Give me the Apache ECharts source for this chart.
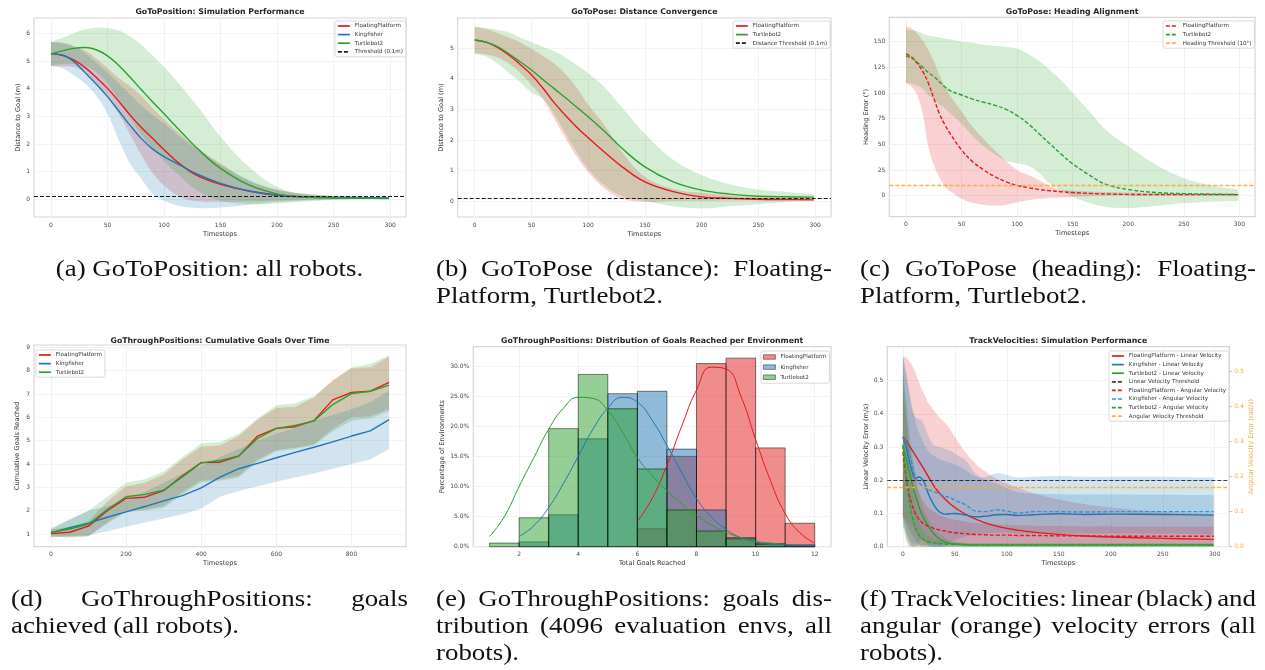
<!DOCTYPE html>
<html><head><meta charset="utf-8">
<script src="https://cdn.jsdelivr.net/npm/echarts@6/dist/echarts.min.js"></script>
<style>html,body{margin:0;padding:0;background:#fff}#c{width:1265px;height:670px}</style>
</head><body><div id="c"></div>
<script>
// ---------------- DATA ----------------
// (a) GoToPosition
const tA = [0,10,20,30,40,50,60,70,80,90,100,115,130,150,175,200,225,250,275,299];
const aFP   = [5.27,5.22,5.05,4.78,4.42,4.02,3.55,3.05,2.6,2.2,1.8,1.25,0.85,0.54,0.3,0.16,0.09,0.06,0.05,0.04];
const aKF   = [5.27,5.23,5.0,4.6,4.18,3.72,3.2,2.68,2.2,1.82,1.55,1.22,0.9,0.58,0.3,0.14,0.09,0.07,0.06,0.05];
const aTB   = [5.27,5.38,5.47,5.5,5.42,5.2,4.85,4.42,3.97,3.53,3.1,2.45,1.82,1.12,0.52,0.2,0.08,0.05,0.04,0.03];
const aFPlo = [4.82,4.82,4.8,4.6,4.2,3.7,3.1,2.35,1.6,0.95,0.5,0.08,-0.07,-0.09,-0.08,-0.05,-0.02,0.0,0.01,0.02];
const aFPhi = [5.7,5.65,5.55,5.4,5.1,4.75,4.4,4.1,3.75,3.3,2.9,2.35,1.85,1.3,0.68,0.35,0.2,0.12,0.08,0.06];
const aKFlo = [4.85,4.75,4.5,4.2,3.75,3.1,2.15,1.3,0.75,0.2,-0.05,-0.25,-0.32,-0.3,-0.2,-0.1,-0.04,0.0,0.01,0.02];
const aKFhi = [5.7,5.68,5.55,5.3,4.95,4.6,4.2,3.8,3.4,3.05,2.75,2.25,1.8,1.25,0.7,0.35,0.2,0.12,0.1,0.08];
const aTBlo = [4.85,4.9,4.9,4.85,4.6,4.2,3.6,2.95,2.35,1.85,1.4,0.8,0.3,-0.05,-0.17,-0.15,-0.08,-0.02,0.0,0.0];
const aTBhi = [5.7,5.85,6.02,6.15,6.22,6.2,6.12,5.9,5.6,5.2,4.8,4.1,3.35,2.27,1.18,0.46,0.16,0.1,0.08,0.06];
const aThreshold = 0.1;

// (b) GoToPose distance
const tB = [0,10,20,30,40,50,60,70,80,90,100,115,130,150,175,200,225,250,275,299];
const bFP   = [5.27,5.2,5.03,4.78,4.47,4.13,3.7,3.22,2.8,2.42,2.07,1.58,1.12,0.63,0.31,0.14,0.09,0.06,0.05,0.04];
const bTB   = [5.27,5.2,5.05,4.82,4.56,4.29,3.98,3.68,3.38,3.07,2.76,2.26,1.72,1.12,0.63,0.36,0.23,0.16,0.14,0.13];
const bFPlo = [4.82,4.8,4.7,4.5,4.2,3.8,3.35,2.7,2.05,1.45,0.95,0.4,0.08,-0.02,0.0,0.01,0.02,0.02,0.02,0.02];
const bFPhi = [5.7,5.62,5.5,5.35,5.2,4.98,4.75,4.5,4.15,3.7,3.15,2.45,1.6,0.8,0.4,0.27,0.18,0.12,0.1,0.09];
const bTBlo = [4.84,4.72,4.5,4.2,3.9,3.55,3.35,2.85,2.2,1.6,1.05,0.5,0.16,0.0,-0.17,-0.24,-0.17,-0.1,-0.03,0.04];
const bTBhi = [5.7,5.66,5.6,5.52,5.35,5.2,5.05,4.9,4.7,4.45,4.18,3.7,3.05,2.2,1.35,0.85,0.55,0.38,0.3,0.22];
const bThreshold = 0.1;

// (c) GoToPose heading
const tC = [0,5,10,15,20,25,30,35,40,50,60,70,80,90,100,110,120,130,140,150,165,180,200,225,250,275,299];
const cFP   = [138,135,129,121,110,95,80,69,60,44.5,33,25,18.5,13.5,10,7.8,6,4.8,3.8,3,2.2,1.6,1.2,1,1,1,1];
const cTB   = [136,134,130,125,120,116,111,106,102,98,94,91,88,84,78,70,60,50,40,31,20,11,6,3,2,1.5,1];
const cFPlo = [110,106,98,80,48,30,18,9,4,-3,-7,-9,-9.5,-9,-6.5,-4.5,-3,-2.3,-1.8,-1.2,-0.5,0,0,0,0,0,0];
const cFPhi = [165,163,158,151,142,131,118,106,97,82,67,55,44,34,25,20,15,9,6,5,4,3.5,3,2.5,2.2,2,2];
const cTBlo = [110,109,107,104,98,94,89,85,80,70,58,48,40,34,31.5,29,22,11,5,-1,-7,-11,-12,-10,-7.5,-6,-5];
const cTBhi = [162,161,160,158,156,155,154,153,152,150,149,147,146,145,143,138,131,122,112,100,82,64,48,30,17,10,6];
const cThreshold = 10;

// (d) GoThroughPositions cumulative goals
const tD = [0,50,100,150,200,250,300,350,400,450,500,550,600,650,700,750,800,850,900];
const dFP   = [1.02,1.08,1.34,2.0,2.53,2.58,2.86,3.5,4.06,4.08,4.34,5.2,5.53,5.6,5.86,6.75,7.07,7.12,7.5];
const dKF   = [1.05,1.27,1.47,1.72,1.95,2.18,2.42,2.65,2.98,3.44,3.8,4.03,4.27,4.5,4.72,4.95,5.2,5.42,5.9];
const dTB   = [1.08,1.22,1.42,2.05,2.6,2.7,2.88,3.45,4.05,4.15,4.35,5.1,5.53,5.65,5.85,6.55,7.02,7.12,7.38];
const dFPlo = [0.88,0.88,0.92,1.5,2.0,2.05,2.2,2.8,3.3,3.35,3.5,4.2,4.6,4.7,4.85,5.5,6.0,6.05,6.35];
const dFPhi = [1.2,1.3,1.55,2.4,3.05,3.2,3.55,4.2,4.75,4.8,5.2,5.9,6.4,6.45,6.85,7.6,8.1,8.15,8.6];
const dKFlo = [0.9,0.92,0.95,1.12,1.31,1.5,1.67,1.85,2.1,2.6,2.85,3.05,3.24,3.42,3.6,3.8,4.0,4.2,4.64];
const dKFhi = [1.2,1.65,2.0,2.2,2.45,2.8,3.2,3.6,3.9,4.3,4.65,5.0,5.3,5.55,5.85,6.1,6.35,6.65,7.15];
const dTBlo = [0.9,0.85,0.9,1.45,1.95,2.0,2.12,2.7,3.22,3.28,3.42,4.1,4.55,4.65,4.8,5.4,5.85,5.95,6.25];
const dTBhi = [1.25,1.6,2.0,2.6,3.2,3.35,3.68,4.3,4.88,4.95,5.3,5.95,6.52,6.6,6.9,7.55,8.15,8.3,8.65];

// (e) distribution of goals (percent of envs per bin)
const eFPedges = [6,7,8,9,10,11,12];
const eFP      = [3.0,15.0,30.4,31.3,16.4,3.9];
const eKFedges = [2,3,4,5,6,7,8,9,10,11,12];
const eKF      = [0.8,5.3,17.9,25.4,25.8,16.2,6.1,1.5,0.5,0.2];
const eTBedges = [1,2,3,4,5,6,7,8,9,10,11,12];
const eTB      = [0.6,4.8,19.6,28.6,22.9,12.9,6.1,2.6,1.3,0.4,0.3];
const eFPkdeX  = [6,6.5,7,7.5,8,8.5,9,9.5,10,10.5,11,11.5,12];
const eFPkde   = [4.2,8.0,13.5,20.0,26.0,29.8,29.5,25.0,17.8,11.0,5.5,2.3,0.6];
const eKFkdeX  = [2,2.5,3,3.5,4,4.5,5,5.5,6,6.5,7,7.5,8,8.5,9,9.5,10,10.5,11,11.5,12];
const eKFkde   = [1.7,3.5,6.5,10.5,15.0,19.5,23.0,24.8,24.0,21.0,16.8,12.3,8.0,5.0,2.9,1.5,0.8,0.4,0.3,0.2,0.2];
const eTBkdeX  = [1,1.5,2,2.5,3,3.5,4,4.5,5,5.5,6,6.5,7,7.5,8,8.5,9,9.5,10,10.5,11];
const eTBkde   = [1.7,5.0,10.0,14.8,19.5,23.0,24.8,24.6,22.6,19.0,14.8,11.8,9.3,7.1,5.2,3.6,2.4,1.5,0.9,0.6,0.4];

// (f) TrackVelocities
const tF = [0,3,6,9,12,15,18,21,25,30,35,40,45,50,60,70,80,90,100,110,125,150,175,200,250,299];
const fFPlin = [0.33,0.32,0.305,0.29,0.275,0.26,0.245,0.23,0.208,0.182,0.162,0.145,0.13,0.118,0.098,0.083,0.071,0.062,0.055,0.05,0.044,0.037,0.032,0.029,0.025,0.022];
const fKFlin = [0.33,0.3,0.26,0.225,0.205,0.21,0.205,0.19,0.155,0.125,0.105,0.098,0.099,0.1,0.095,0.09,0.092,0.096,0.097,0.094,0.096,0.099,0.097,0.098,0.097,0.095];
const fTBlin = [0.3,0.265,0.225,0.19,0.155,0.125,0.1,0.08,0.06,0.038,0.024,0.015,0.01,0.008,0.006,0.005,0.005,0.005,0.005,0.005,0.005,0.005,0.005,0.005,0.005,0.005];
const fFPang = [0.27,0.2,0.15,0.118,0.095,0.08,0.07,0.063,0.058,0.052,0.048,0.045,0.042,0.04,0.037,0.035,0.034,0.033,0.033,0.032,0.032,0.031,0.031,0.03,0.03,0.03];
const fKFang = [0.31,0.3,0.27,0.235,0.2,0.185,0.175,0.168,0.162,0.157,0.15,0.145,0.14,0.133,0.12,0.102,0.1,0.105,0.102,0.096,0.1,0.1,0.099,0.1,0.1,0.1];
const fTBang = [0.29,0.21,0.135,0.085,0.055,0.035,0.025,0.018,0.014,0.011,0.009,0.008,0.007,0.007,0.006,0.006,0.006,0.006,0.006,0.006,0.006,0.006,0.006,0.006,0.006,0.006];
const fFPlinHi = [0.57,0.57,0.56,0.545,0.525,0.5,0.475,0.455,0.43,0.41,0.39,0.375,0.355,0.33,0.285,0.25,0.225,0.205,0.19,0.178,0.162,0.142,0.128,0.118,0.105,0.098];
const fFPlinLo = [0.09,0.07,0.05,0.035,0.02,0.01,0.0,-0.01,-0.02,-0.03,-0.04,-0.05,-0.05,-0.05,-0.05,-0.05,-0.05,-0.05,-0.05,-0.05,-0.05,-0.05,-0.05,-0.05,-0.05,-0.05];
const fKFlinHi = [0.57,0.52,0.46,0.41,0.39,0.385,0.38,0.36,0.33,0.305,0.3,0.295,0.29,0.28,0.26,0.22,0.2,0.19,0.175,0.165,0.16,0.158,0.157,0.157,0.156,0.155];
const fKFlinLo = [0.09,0.05,0.02,0.0,0.0,0.01,0.02,0.02,0.0,-0.01,-0.01,0.0,0.01,0.02,0.03,0.035,0.04,0.042,0.043,0.04,0.04,0.04,0.04,0.04,0.039,0.037];
const fTBlinHi = [0.52,0.45,0.36,0.28,0.22,0.17,0.13,0.105,0.08,0.055,0.04,0.028,0.02,0.015,0.012,0.01,0.01,0.01,0.01,0.01,0.01,0.01,0.01,0.01,0.01,0.01];
const fTBlinLo = [0.09,0.08,0.07,0.06,0.045,0.03,0.02,0.012,0.005,0,0,0,0,0,0,0,0,0,0,0,0,0,0,0,0,0];
const fFPangHi = [0.45,0.38,0.3,0.24,0.19,0.16,0.14,0.125,0.11,0.1,0.09,0.085,0.08,0.077,0.072,0.068,0.066,0.064,0.062,0.061,0.06,0.059,0.058,0.058,0.057,0.057];
const fFPangLo = [0.09,0.03,0.005,0,0,0,0.005,0.005,0.006,0.006,0.006,0.006,0.006,0.007,0.008,0.008,0.008,0.008,0.008,0.008,0.008,0.008,0.008,0.008,0.008,0.008];
const fKFangHi = [0.55,0.5,0.45,0.4,0.36,0.33,0.31,0.29,0.27,0.26,0.25,0.245,0.24,0.235,0.22,0.2,0.2,0.21,0.205,0.198,0.2,0.202,0.2,0.2,0.2,0.198];
const fKFangLo = [0.06,0.04,0.02,0.01,0.01,0.005,0,0,0,0,0,0,0,0,0,0,0,0,0,0,0,0,0,0,0,0];
const fTBangHi = [0.52,0.4,0.27,0.18,0.12,0.08,0.055,0.04,0.03,0.022,0.018,0.015,0.013,0.012,0.011,0.01,0.01,0.01,0.01,0.01,0.01,0.01,0.01,0.01,0.01,0.01];
const fTBangLo = [0.06,0.02,0,0,0,0,0,0,0,0,0,0,0,0,0,0,0,0,0,0,0,0,0,0,0,0];
const fLinThreshold = 0.2;
const fAngThreshold = 0.1745;

// tick labels
const ticksT300 = [0,50,100,150,200,250,300];
const ticksT900 = [0,200,400,600,800];
const ticksA = [0,1,2,3,4,5,6];
const ticksB = [0,1,2,3,4,5];
const ticksC = [0,25,50,75,100,125,150];
const ticksD = [1,2,3,4,5,6,7,8,9];
const ticksEx = [2,4,6,8,10,12];
const ticksEy = [0,5,10,15,20,25,30];
const ticksF = [0,0.1,0.2,0.3,0.4,0.5];

const titles = [
  'GoToPosition: Simulation Performance',
  'GoToPose: Distance Convergence',
  'GoToPose: Heading Alignment',
  'GoThroughPositions: Cumulative Goals Over Time',
  'GoThroughPositions: Distribution of Goals Reached per Environment',
  'TrackVelocities: Simulation Performance'
];
const captions = [
  {col:0,row:0,lines:['(a) GoToPosition: all robots.']},
  {col:1,row:0,lines:['(b) GoToPose (distance): Floating-','Platform, Turtlebot2.']},
  {col:2,row:0,lines:['(c) GoToPose (heading): Floating-','Platform, Turtlebot2.']},
  {col:0,row:1,lines:['(d) GoThroughPositions: goals','achieved (all robots).']},
  {col:1,row:1,lines:['(e) GoThroughPositions: goals dis-','tribution (4096 evaluation envs, all','robots).']},
  {col:2,row:1,lines:['(f) TrackVelocities: linear (black) and','angular (orange) velocity errors (all','robots).']}
];

// ---------------- STYLE / LAYOUT ----------------
const FONT = 'DejaVu Sans';
const COL = {fp:'#e41a1c', kf:'#1f77b4', tb:'#2ca02c', orangeTxt:'#ffa447'};
const FILL = {fp:'rgba(228,26,28,0.2)', kf:'rgba(31,119,180,0.2)', tb:'rgba(44,160,44,0.2)'};
const HFILL = {fp:'rgba(228,26,28,0.5)', kf:'rgba(31,119,180,0.5)', tb:'rgba(44,160,44,0.5)'};
const HEDGE = 'rgba(0,0,0,0.55)';
const grids = [
  {left:34, top:18, width:372, height:199},
  {left:457.7, top:18, width:373.3, height:199},
  {left:889.3, top:17.3, width:365.7, height:199.4},
  {left:34, top:345, width:372, height:201.7},
  {left:473.3, top:346.7, width:357.7, height:200},
  {left:887.3, top:346.7, width:342, height:200}
];

const series = [];
function band(name, gi, yi, t, lo, hi, fill, smooth) {
  series.push({
    type:'custom', name:name, xAxisIndex:gi, yAxisIndex:yi, clip:true, silent:true,
    data: t.map((x,i)=>[x, lo[i], hi[i]]), encode:{x:0, y:[1,2]},
    renderItem: function(params, api) {
      if (params.dataIndex !== 0) return null;
      const up = t.map((x,i)=>api.coord([x, hi[i]]));
      const dn = t.map((x,i)=>api.coord([x, lo[i]])).reverse();
      const pts = [up[0]].concat(up, [up[up.length-1]], [dn[0]], dn, [dn[dn.length-1]]);
      return {type:'polygon', shape:{points:pts, smooth:smooth}, style:{fill:fill}};
    }
  });
}
function line(name, gi, yi, t, v, color, dashed, smooth, width) {
  series.push({
    type:'line', name:name, xAxisIndex:gi, yAxisIndex:yi, silent:true,
    data: t.map((x,i)=>[x, v[i]]), symbol:'none', smooth:smooth,
    lineStyle:{color:color, width:width||1.4, type: dashed ? [4,2] : 'solid'}, itemStyle:{color:color}
  });
}
function thresh(name, gi, yi, val, color, w) {
  series.push({
    type:'line', name:name, xAxisIndex:gi, yAxisIndex:yi, data:[], symbol:'none',
    lineStyle:{color:color, width:w||1.2, type:[4,2]}, itemStyle:{color:color},
    markLine:{silent:true, symbol:['none','none'], label:{show:false}, animation:false,
      lineStyle:{color:color, width:w||1.2, type:[4,2]}, data:[{yAxis:val}]}
  });
}
function hist(name, gi, edges, vals, fill) {
  series.push({
    type:'custom', name:name, xAxisIndex:gi, yAxisIndex:gi, silent:true,
    itemStyle:{color:fill, borderColor:HEDGE, borderWidth:0.8},
    data: vals.map((v,i)=>[edges[i], edges[i+1], v]), encode:{x:[0,1], y:2},
    renderItem: function(params, api) {
      const p0 = api.coord([api.value(0), api.value(2)]);
      const p1 = api.coord([api.value(1), 0]);
      return {type:'rect', shape:{x:p0[0], y:p0[1], width:p1[0]-p0[0], height:p1[1]-p0[1]},
        style:{fill:fill, stroke:HEDGE, lineWidth:0.9}};
    }
  });
}

const ORANGE_LINE = 'rgba(255,170,40,0.9)';
// (a)
band('a_fp_band',0,0,tA,aFPlo,aFPhi,FILL.fp,0.4); line('a:FloatingPlatform',0,0,tA,aFP,COL.fp,false,0.4);
band('a_kf_band',0,0,tA,aKFlo,aKFhi,FILL.kf,0.4); line('a:Kingfisher',0,0,tA,aKF,COL.kf,false,0.4);
band('a_tb_band',0,0,tA,aTBlo,aTBhi,FILL.tb,0.4); line('a:Turtlebot2',0,0,tA,aTB,COL.tb,false,0.4);
thresh('a:Threshold (0.1m)',0,0,aThreshold,'#1a1a1a');
// (b)
band('b_fp_band',1,1,tB,bFPlo,bFPhi,FILL.fp,0.4); line('b:FloatingPlatform',1,1,tB,bFP,COL.fp,false,0.4);
band('b_tb_band',1,1,tB,bTBlo,bTBhi,FILL.tb,0.4); line('b:Turtlebot2',1,1,tB,bTB,COL.tb,false,0.4);
thresh('b:Distance Threshold (0.1m)',1,1,bThreshold,'#1a1a1a');
// (c)
band('c_fp_band',2,2,tC,cFPlo,cFPhi,FILL.fp,0.4); line('c:FloatingPlatform',2,2,tC,cFP,COL.fp,true,0.4);
band('c_tb_band',2,2,tC,cTBlo,cTBhi,FILL.tb,0.4); line('c:Turtlebot2',2,2,tC,cTB,COL.tb,true,0.4);
thresh('c:Heading Threshold (10°)',2,2,cThreshold,ORANGE_LINE,1.4);
// (d)
band('d_fp_band',3,3,tD,dFPlo,dFPhi,FILL.fp,0); line('d:FloatingPlatform',3,3,tD,dFP,COL.fp,false,false);
band('d_kf_band',3,3,tD,dKFlo,dKFhi,FILL.kf,0); line('d:Kingfisher',3,3,tD,dKF,COL.kf,false,false);
band('d_tb_band',3,3,tD,dTBlo,dTBhi,FILL.tb,0); line('d:Turtlebot2',3,3,tD,dTB,COL.tb,false,false);
// (e)
hist('e:FloatingPlatform',4,eFPedges,eFP,HFILL.fp);
hist('e:Kingfisher',4,eKFedges,eKF,HFILL.kf);
hist('e:Turtlebot2',4,eTBedges,eTB,HFILL.tb);
line('e_fp_kde',4,4,eFPkdeX,eFPkde,COL.fp,false,0.5,1);
line('e_kf_kde',4,4,eKFkdeX,eKFkde,COL.kf,false,0.5,1);
line('e_tb_kde',4,4,eTBkdeX,eTBkde,COL.tb,false,0.5,1);
// (f) linear on left axis (5), angular on right axis (6)
band('f_fp_lb',5,5,tF,fFPlinLo,fFPlinHi,FILL.fp,0.4); line('f:FloatingPlatform - Linear Velocity',5,5,tF,fFPlin,COL.fp,false,0.4);
band('f_kf_lb',5,5,tF,fKFlinLo,fKFlinHi,FILL.kf,0.4); line('f:Kingfisher - Linear Velocity',5,5,tF,fKFlin,COL.kf,false,0.4);
band('f_tb_lb',5,5,tF,fTBlinLo,fTBlinHi,FILL.tb,0.4); line('f:Turtlebot2 - Linear Velocity',5,5,tF,fTBlin,COL.tb,false,0.4);
thresh('f:Linear Velocity Threshold',5,5,fLinThreshold,'rgba(0,0,0,0.75)');
band('f_fp_ab',5,6,tF,fFPangLo,fFPangHi,FILL.fp,0.4); line('f:FloatingPlatform - Angular Velocity',5,6,tF,fFPang,COL.fp,true,0.4);
band('f_kf_ab',5,6,tF,fKFangLo,fKFangHi,FILL.kf,0.4); line('f:Kingfisher - Angular Velocity',5,6,tF,fKFang,'#3a8fd0',true,0.4);
band('f_tb_ab',5,6,tF,fTBangLo,fTBangHi,FILL.tb,0.4); line('f:Turtlebot2 - Angular Velocity',5,6,tF,fTBang,COL.tb,true,0.4);
thresh('f:Angular Velocity Threshold',5,6,fAngThreshold,ORANGE_LINE,1.3);

// axes
const lblStyle = {fontSize:6, color:'#4a4a4a', fontFamily:FONT};
const nameStyle = {fontSize:6.6, color:'#333', fontFamily:FONT};
function xAx(gi, min, max, ticks, name) {
  return {type:'value', gridIndex:gi, min:min, max:max, name:name, nameLocation:'middle', nameGap:13.5,
    nameTextStyle:nameStyle, axisLine:{show:false}, axisTick:{show:false, customValues:ticks},
    axisLabel:Object.assign({customValues:ticks, margin:5}, lblStyle),
    splitLine:{show:true, lineStyle:{color:'#efefef', width:0.8}}};
}
function yAx(gi, min, max, ticks, name, gap, fmt) {
  return {type:'value', gridIndex:gi, min:min, max:max, name:name, nameLocation:'middle', nameGap:gap,
    nameTextStyle:nameStyle, axisLine:{show:false}, axisTick:{show:false, customValues:ticks},
    axisLabel:Object.assign({customValues:ticks, margin:4, formatter:fmt}, lblStyle),
    splitLine:{show:true, lineStyle:{color:'#efefef', width:0.8}}};
}
const xAxes = [
  xAx(0,-15,314,ticksT300,'Timesteps'),
  xAx(1,-15,314,ticksT300,'Timesteps'),
  xAx(2,-15,314,ticksT300,'Timesteps'),
  xAx(3,-45,945,ticksT900,'Timesteps'),
  xAx(4,0.45,12.55,ticksEx,'Total Goals Reached'),
  xAx(5,-15,314,ticksT300,'Timesteps')
];
const yAxes = [
  yAx(0,-0.64,6.57,ticksA,'Distance to Goal (m)',12.5),
  yAx(1,-0.52,5.99,ticksB,'Distance to Goal (m)',12.5),
  yAx(2,-20.5,173.7,ticksC,'Heading Error (°)',19.5),
  yAx(3,0.46,9.1,ticksD,'Cumulative Goals Reached',13),
  yAx(4,0,33.2,ticksEy,'Percentage of Environments',28,v=>v.toFixed(1)+'%'),
  yAx(5,0,0.602,ticksF,'Linear Velocity Error (m/s)',18,v=>v.toFixed(1)),
  {type:'value', gridIndex:5, position:'right', min:0, max:0.571, name:'Angular Velocity Error (rad/s)',
    nameLocation:'middle', nameGap:18, nameTextStyle:Object.assign({}, nameStyle, {color:COL.orangeTxt}),
    axisLine:{show:false}, axisTick:{show:true, inside:false, length:3, customValues:ticksF, lineStyle:{color:COL.orangeTxt, width:0.8}},
    axisLabel:Object.assign({}, lblStyle, {customValues:ticksF, margin:5, color:COL.orangeTxt, formatter:v=>v.toFixed(1)}),
    splitLine:{show:false}}
];

function legend(names, left, top, rectStyles) {
  const l = {show:true, left:left, top:top, orient:'vertical', selectedMode:false,
    data:names, itemWidth:12, itemHeight:6, itemGap:2.6, padding:[2,3,2,2],
    backgroundColor:'rgba(255,255,255,0.85)', borderColor:'#d0d0d0', borderWidth:0.8, borderRadius:2,
    textStyle:{fontSize:5.6, color:'#333', fontFamily:FONT},
    formatter: n => n.slice(n.indexOf(':')+1)};
  if (rectStyles) {
    l.data = names.map((n,i)=>({name:n, icon:'rect', itemStyle:{color:rectStyles[i], borderColor:HEDGE, borderWidth:0.8, opacity:1}}));
    l.itemHeight = 4.5; l.itemGap = 4.1; l.padding = [3,3,3,2];
  } else {
    l.itemStyle = {opacity:0};
    l.lineStyle = {width:1.7};
  }
  return l;
}
const legends = [
  legend(['a:FloatingPlatform','a:Kingfisher','a:Turtlebot2','a:Threshold (0.1m)'],335,21),
  legend(['b:FloatingPlatform','b:Turtlebot2','b:Distance Threshold (0.1m)'],733,21),
  legend(['c:FloatingPlatform','c:Turtlebot2','c:Heading Threshold (10°)'],1163,21),
  legend(['d:FloatingPlatform','d:Kingfisher','d:Turtlebot2'],36,350),
  legend(['e:FloatingPlatform','e:Kingfisher','e:Turtlebot2'],761,351,[HFILL.fp,HFILL.kf,HFILL.tb]),
  legend(['f:FloatingPlatform - Linear Velocity','f:Kingfisher - Linear Velocity','f:Turtlebot2 - Linear Velocity','f:Linear Velocity Threshold',
          'f:FloatingPlatform - Angular Velocity','f:Kingfisher - Angular Velocity','f:Turtlebot2 - Angular Velocity','f:Angular Velocity Threshold'],1109,351)
];

// graphic: titles and captions
const graphic = [];
titles.forEach((t,i)=>{
  const g = grids[i];
  graphic.push({type:'text', x:g.left+g.width/2, y:(i<3?12:341), silent:true,
    style:{text:t, font:'bold 7.8px "DejaVu Sans"', fill:'#262626', textAlign:'center', align:'center', textVerticalAlign:'middle', verticalAlign:'middle'}});
});
const CAP_FONT = '23px "Liberation Serif"';
const CAP_SX = 1.17;
const capCols = [[11,408],[436,832],[860,1256]];
const capRowY = [270,600];
const capLineH = 27;
const mctx = document.createElement('canvas').getContext('2d');
mctx.font = CAP_FONT;
function capText(txt, x, y, align) {
  graphic.push({type:'text', x:x, y:y, scaleX:CAP_SX, silent:true,
    style:{text:txt, font:CAP_FONT, fill:'#111', textAlign:align, align:align, textVerticalAlign:'middle', verticalAlign:'middle'}});
}
captions.forEach(c=>{
  const x0 = capCols[c.col][0], x1 = capCols[c.col][1];
  c.lines.forEach((ln, li)=>{
    const y = capRowY[c.row] + li*capLineH;
    if (c.lines.length === 1) { capText(ln, (x0+x1)/2, y, 'center'); return; }
    if (li === c.lines.length-1) { capText(ln, x0, y, 'left'); return; }
    const words = ln.split(' ');
    const ws = words.map(w=>mctx.measureText(w).width*CAP_SX);
    const tot = ws.reduce((s,w)=>s+w,0);
    const gap = (x1-x0-tot)/(words.length-1);
    let x = x0;
    words.forEach((w,i)=>{ capText(w, x, y, 'left'); x += ws[i]+gap; });
  });
});

const chart = echarts.init(document.getElementById('c'), null, {renderer:'canvas'});
chart.setOption({
  animation:false,
  backgroundColor:'#ffffff',
  grid: grids.map(g=>Object.assign({show:true, borderColor:'#d6d6d6', borderWidth:1.2, backgroundColor:'#fff', containLabel:false}, g)),
  xAxis: xAxes,
  yAxis: yAxes,
  legend: legends,
  graphic: graphic,
  series: series
});
</script></body></html>
